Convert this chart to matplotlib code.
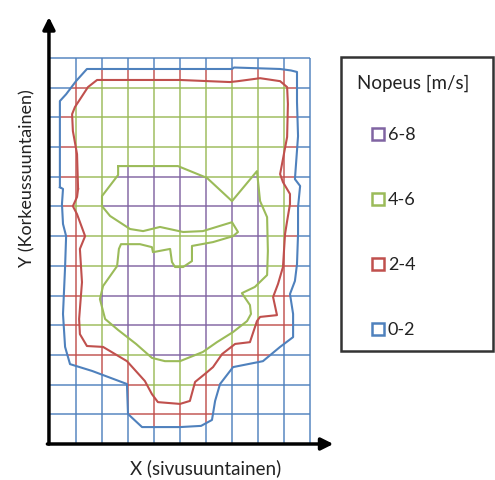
import matplotlib
matplotlib.use('Agg')
import matplotlib.pyplot as plt
import numpy as np
from matplotlib.path import Path
from matplotlib.patches import Rectangle

plt.rcParams['font.family'] = ['Lato', 'DejaVu Sans']

#===== grid size (cells) ================
n_cols = 10
n_rows = 13

#===== contour lines, in cell units (x sideways, y up) ================
# outer boundary 0-2 / 2-4
blue_x = [0.38, 0.38, 0.62, 1.00, 1.42, 7.00, 7.08, 8.85, 9.27, 9.50, 9.50, 9.54, 9.42,
          9.62, 9.54, 9.54, 9.50, 9.42, 9.23, 9.35, 9.35, 8.85, 8.19, 7.04, 6.54, 6.35,
          6.23, 5.81, 5.00, 3.54, 3.00, 2.96, 1.62, 0.77, 0.58, 0.50, 0.58, 0.62, 0.50,
          0.46, 0.50]
blue_y = [8.65, 11.55, 11.78, 12.22, 12.63, 12.63, 12.68, 12.63, 12.58, 12.53, 11.52,
          10.37, 8.92, 8.69, 7.98, 7.07, 6.06, 5.49, 5.05, 4.38, 3.60, 3.27, 2.79, 2.59,
          2.02, 1.45, 0.81, 0.61, 0.57, 0.57, 1.01, 2.02, 2.46, 2.69, 3.27, 4.38, 5.96,
          7.00, 7.41, 8.08, 8.59]

# 2-4 / 4-6
red_x = [1.08, 1.04, 0.88, 0.85, 0.96, 1.46, 1.81, 5.00, 6.92, 7.23, 8.08, 8.85, 9.12,
         9.15, 9.12, 8.85, 8.96, 9.23, 9.23, 9.12, 9.04, 8.96, 8.77, 8.58, 8.73, 8.08,
         7.96, 7.69, 7.12, 6.62, 6.27, 5.96, 5.58, 5.38, 5.00, 4.15, 3.92, 3.65, 2.96,
         2.04, 1.42, 1.15, 1.12, 1.23, 1.15, 1.35, 1.04, 0.88, 1.04]
red_y = [8.59, 9.76, 10.54, 11.11, 11.35, 12.02, 12.26, 12.26, 12.19, 12.22, 12.32,
         12.22, 12.02, 11.45, 10.34, 9.09, 8.82, 8.42, 8.08, 7.51, 7.07, 5.96, 5.39,
         4.95, 4.34, 4.28, 4.14, 3.43, 3.37, 3.03, 2.59, 2.36, 2.09, 1.45, 1.35, 1.41,
         1.68, 2.12, 2.79, 3.27, 3.30, 3.70, 4.21, 5.45, 6.57, 7.00, 7.74, 8.01, 8.32]

# 4-6 / 6-8
green_x = [2.62, 4.92, 6.04, 7.00, 7.96, 8.08, 8.35, 8.38, 8.35, 7.88, 7.38, 7.69, 7.73,
           7.58, 7.04, 6.42, 5.88, 5.00, 4.42, 3.92, 3.31, 2.62, 2.12, 1.92, 2.04, 2.58,
           2.65, 2.73, 3.46, 3.92, 3.96, 4.62, 4.69, 4.81, 5.12, 5.46, 5.46, 6.27, 7.04,
           7.23, 7.00, 5.88, 5.12, 4.23, 3.58, 3.08, 2.31, 2.00, 2.00, 2.62]
green_y = [9.36, 9.36, 8.96, 8.18, 9.19, 8.18, 7.64, 6.50, 5.69, 5.29, 5.08, 4.68, 4.38,
           4.14, 3.77, 3.43, 3.10, 2.79, 2.79, 2.90, 3.37, 3.84, 4.21, 4.88, 5.32, 5.99,
           6.57, 6.73, 6.73, 6.63, 6.46, 6.57, 6.13, 5.96, 5.96, 6.16, 6.67, 6.80, 7.00,
           7.14, 7.47, 7.17, 7.14, 7.31, 7.17, 7.24, 7.68, 8.01, 8.35, 9.06]

zone_names  = ['6-8', '4-6', '2-4', '0-2']
zone_colors = ['#4F81BD', '#C0504D', '#9BBB59', '#8064A2']   # 0-2, 2-4, 4-6, 6-8
contours = [(blue_x, blue_y, zone_colors[0]),
            (red_x, red_y, zone_colors[1]),
            (green_x, green_y, zone_colors[2])]

#===== figure ================
W, H = 495, 481
fig = plt.figure(figsize=(W/100, H/100), dpi=100)
ax = fig.add_axes([50/W, 1 - 445/H, 260/W, 386/H])
ax.set_xlim(0, n_cols)
ax.set_ylim(0, n_rows)
ax.axis('off')

paths = [Path(np.column_stack([cx, cy])) for cx, cy, _ in contours]

def zone_of(pts):
    z = np.zeros(len(pts), dtype=int)
    for p in paths:
        z += p.contains_points(pts).astype(int)
    return z

def grid_line(p0, p1):
    # colour each piece of a grid line by the speed zone it runs through
    t = np.linspace(0, 1, 800)
    pts = p0 + (p1 - p0) * t[:, None]
    z = zone_of((pts[:-1] + pts[1:]) / 2)
    start = 0
    for i in range(1, len(z) + 1):
        if i == len(z) or z[i] != z[start]:
            ax.plot([pts[start, 0], pts[i, 0]], [pts[start, 1], pts[i, 1]],
                    color=zone_colors[z[start]], lw=1.3, alpha=0.8,
                    solid_capstyle='butt', zorder=1, clip_on=False)
            start = i

for i in range(1, n_cols + 1):
    grid_line(np.array([i, 0.0]), np.array([i, float(n_rows)]))
for j in range(1, n_rows + 1):
    grid_line(np.array([0.0, j]), np.array([float(n_cols), j]))

for cx, cy, c in contours:
    ax.plot(cx + cx[:1], cy + cy[:1], color=c, lw=1.5, zorder=2)

# axes arrows
arrow = dict(arrowstyle='-|>', lw=2.5, color='black', mutation_scale=18,
             shrinkA=0, shrinkB=0)
ax.annotate('', xy=(-0.004, 1.106), xytext=(-0.004, 0), xycoords='axes fraction',
            arrowprops=arrow, annotation_clip=False)
ax.annotate('', xy=(1.09, 0), xytext=(-0.01, 0), xycoords='axes fraction',
            arrowprops=arrow, annotation_clip=False)

fig.text(206/W, 1 - 468/H, 'X (sivusuuntainen)', ha='center', va='center',
         fontsize=13.5, color='#222222')
fig.text(27/W, 1 - 178/H, 'Y (Korkeussuuntainen)', ha='center', va='center',
         rotation=90, fontsize=13, color='#222222')

#===== legend box ================
fig.patches.append(Rectangle((341/W, 1 - 352/H), (493 - 341)/W, (352 - 58)/H,
                             transform=fig.transFigure, fill=False,
                             edgecolor='#333333', lw=1.8))
fig.text(357/W, 1 - 83/H, 'Nopeus [m/s]', ha='left', va='center', fontsize=13.5,
         color='#222222')
leg_y = [135, 200, 265, 330]
for name, yy, c in zip(zone_names, leg_y, zone_colors[::-1]):
    fig.patches.append(Rectangle((372/W, 1 - (yy + 6)/H), 12/W, 12/H,
                                 transform=fig.transFigure, fill=False,
                                 edgecolor=c, lw=1.8))
    fig.text(388/W, 1 - yy/H, name, ha='left', va='center', fontsize=13,
             color='#222222')

fig.savefig('out.png', dpi=100)
